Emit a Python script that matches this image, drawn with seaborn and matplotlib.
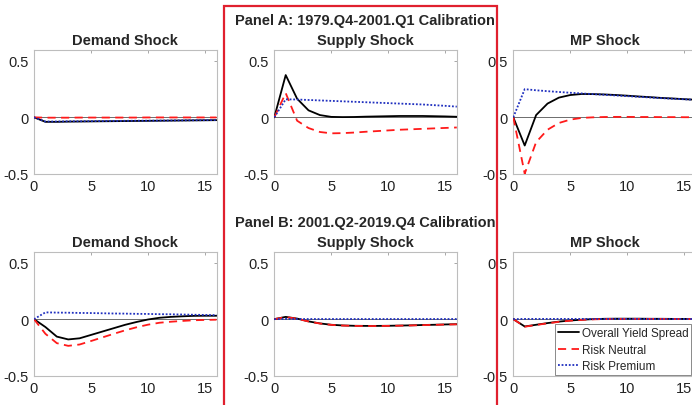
import numpy as np
import pandas as pd
import matplotlib
matplotlib.use("Agg")
import matplotlib.pyplot as plt
import seaborn as sns
from matplotlib.patches import Rectangle

horizon = list(range(17))

# Panel A (1979.Q4-2001.Q1)
a_demand_total = [0, -0.04, -0.04, -0.038, -0.037, -0.036, -0.035, -0.034, -0.033, -0.032, -0.031, -0.030, -0.029, -0.028, -0.027, -0.026, -0.025]
a_demand_rn    = [0, -0.003, -0.003, -0.003, -0.002, -0.002, -0.002, -0.002, -0.002, -0.002, -0.001, -0.001, -0.001, -0.001, -0.001, -0.001, -0.001]
a_demand_rp    = [0, -0.037, -0.037, -0.035, -0.035, -0.034, -0.033, -0.032, -0.031, -0.030, -0.030, -0.029, -0.028, -0.027, -0.026, -0.025, -0.024]

a_supply_rp    = [0, 0.160, 0.158, 0.154, 0.150, 0.146, 0.142, 0.138, 0.134, 0.130, 0.126, 0.122, 0.118, 0.114, 0.108, 0.102, 0.095]
a_supply_rn    = [0, 0.215, -0.03, -0.095, -0.13, -0.142, -0.140, -0.135, -0.128, -0.122, -0.116, -0.110, -0.106, -0.102, -0.098, -0.094, -0.090]
a_supply_total = [0, 0.375, 0.165, 0.062, 0.020, 0.004, 0.002, 0.003, 0.006, 0.008, 0.010, 0.012, 0.012, 0.012, 0.010, 0.008, 0.005]

a_mp_rp    = [0, 0.250, 0.240, 0.232, 0.225, 0.218, 0.212, 0.206, 0.200, 0.194, 0.188, 0.182, 0.176, 0.170, 0.165, 0.160, 0.155]
a_mp_rn    = [0, -0.500, -0.220, -0.110, -0.050, -0.020, -0.005, 0.000, 0.003, 0.004, 0.004, 0.003, 0.003, 0.002, 0.002, 0.001, 0.001]
a_mp_total = [0, -0.250, 0.020, 0.122, 0.175, 0.198, 0.207, 0.206, 0.203, 0.198, 0.192, 0.185, 0.179, 0.172, 0.167, 0.161, 0.156]

# Panel B (2001.Q2-2019.Q4)
b_demand_rp    = [0, 0.060, 0.058, 0.057, 0.055, 0.054, 0.052, 0.050, 0.049, 0.047, 0.046, 0.044, 0.043, 0.041, 0.039, 0.037, 0.035]
b_demand_rn    = [0, -0.130, -0.213, -0.237, -0.225, -0.194, -0.162, -0.130, -0.099, -0.072, -0.049, -0.032, -0.023, -0.016, -0.010, -0.007, -0.005]
b_demand_total = [0, -0.070, -0.155, -0.180, -0.170, -0.140, -0.110, -0.080, -0.050, -0.025, -0.003, 0.012, 0.020, 0.025, 0.029, 0.030, 0.030]

b_supply_total = [0, 0.020, 0.005, -0.020, -0.038, -0.050, -0.056, -0.059, -0.060, -0.060, -0.059, -0.057, -0.055, -0.052, -0.050, -0.047, -0.045]
b_supply_rn    = [0, 0.018, 0.004, -0.021, -0.039, -0.051, -0.057, -0.060, -0.061, -0.061, -0.060, -0.058, -0.056, -0.053, -0.051, -0.048, -0.046]
b_supply_rp    = [0, 0.002, 0.001, 0.001, 0.001, 0.001, 0.001, 0.001, 0.001, 0.001, 0.001, 0.001, 0.001, 0.001, 0.001, 0.001, 0.001]

b_mp_total = [0, -0.065, -0.050, -0.035, -0.022, -0.012, -0.005, 0.000, 0.003, 0.004, 0.004, 0.004, 0.003, 0.003, 0.002, 0.002, 0.001]
b_mp_rn    = [0, -0.067, -0.052, -0.037, -0.024, -0.014, -0.007, -0.002, 0.001, 0.002, 0.002, 0.002, 0.002, 0.002, 0.001, 0.001, 0.000]
b_mp_rp    = [0, 0.002, 0.002, 0.002, 0.002, 0.002, 0.002, 0.002, 0.002, 0.002, 0.002, 0.002, 0.001, 0.001, 0.001, 0.001, 0.001]

series_names = ["Overall Yield Spread", "Risk Neutral", "Risk Premium"]
shock_titles = ["Demand Shock", "Supply Shock", "MP Shock"]
panel_titles = ["Panel A: 1979.Q4-2001.Q1 Calibration", "Panel B: 2001.Q2-2019.Q4 Calibration"]
xtick_vals = [0, 5, 10, 15]
ytick_vals = [-0.5, 0, 0.5]
ytick_labels = ["-0.5", "0", "0.5"]

data = {
    (0, 0): (a_demand_total, a_demand_rn, a_demand_rp),
    (0, 1): (a_supply_total, a_supply_rn, a_supply_rp),
    (0, 2): (a_mp_total, a_mp_rn, a_mp_rp),
    (1, 0): (b_demand_total, b_demand_rn, b_demand_rp),
    (1, 1): (b_supply_total, b_supply_rn, b_supply_rp),
    (1, 2): (b_mp_total, b_mp_rn, b_mp_rp),
}

sns.set_theme(style="white")
plt.rcParams['font.family'] = ['Liberation Sans', 'DejaVu Sans']

W, H = 692, 406
fig = plt.figure(figsize=(W / 100, H / 100), dpi=100)

col_left = [34, 274.3, 513.3]
ax_w = 182.5
row_top = [50.7, 252.5]
ax_h = 124

palette = {"Overall Yield Spread": "black", "Risk Neutral": "#ff1a1a", "Risk Premium": "#1f2fbf"}
dashes = {"Overall Yield Spread": "", "Risk Neutral": (4.5, 3), "Risk Premium": (1, 1)}

for (r, c), vals in data.items():
    left = col_left[c] / W
    bottom = 1 - (row_top[r] + ax_h) / H
    ax = fig.add_axes([left, bottom, ax_w / W, ax_h / H])
    ax.axhline(0, color="#555555", lw=0.6, zorder=1)
    frames = []
    for name, v in zip(series_names, vals):
        frames.append(pd.DataFrame({"h": horizon, "val": v, "series": name}))
    df = pd.concat(frames, ignore_index=True)
    sns.lineplot(data=df, x="h", y="val", hue="series", style="series",
                 palette=palette, dashes=dashes, hue_order=series_names,
                 style_order=series_names, ax=ax, lw=1.3, legend=(r == 1 and c == 2), zorder=3)
    ax.set_xlim(0, 16)
    ax.set_ylim(-0.5, 0.6)
    ax.set_xticks(xtick_vals)
    ax.set_xticklabels([str(t) for t in xtick_vals])
    ax.set_yticks(ytick_vals)
    ax.set_yticklabels(ytick_labels)
    ax.set_xlabel("")
    ax.set_ylabel("")
    ax.tick_params(direction="in", length=2.5, width=0.6, color="#999999",
                   labelsize=10.5, top=True, right=True, pad=3.8, labelcolor="#222222")
    for s in ax.spines.values():
        s.set_color("#bdbdbd")
        s.set_linewidth(0.8)
    ax.set_title(shock_titles[c], fontsize=10.5, fontweight="bold", pad=4)
    if r == 1 and c == 2:
        leg = ax.legend(loc="upper left", bbox_to_anchor=(555 / W, 1 - 325 / H),
                        bbox_transform=fig.transFigure, fontsize=8.5,
                        frameon=True, fancybox=False, borderpad=0.25, labelspacing=0.4,
                        handlelength=1.8, handletextpad=0.2, borderaxespad=0.0)
        leg.get_frame().set_edgecolor("#555555")
        leg.get_frame().set_linewidth(0.6)
        leg.set_title(None)

# panel titles
fig.text(365 / W, 1 - 21.5 / H, panel_titles[0], ha="center", va="center",
         fontsize=10.5, fontweight="bold")
fig.text(365 / W, 1 - 223 / H, panel_titles[1], ha="center", va="center",
         fontsize=10.5, fontweight="bold")

# red frame around the middle column
rect = Rectangle((223.5 / W, -0.05), (497 - 223.5) / W, 1.05 - 7 / H,
                 transform=fig.transFigure, fill=False, edgecolor="#e0202e",
                 lw=1.6, zorder=10, clip_on=False)
fig.patches.append(rect)

fig.savefig("out.png", dpi=100)
